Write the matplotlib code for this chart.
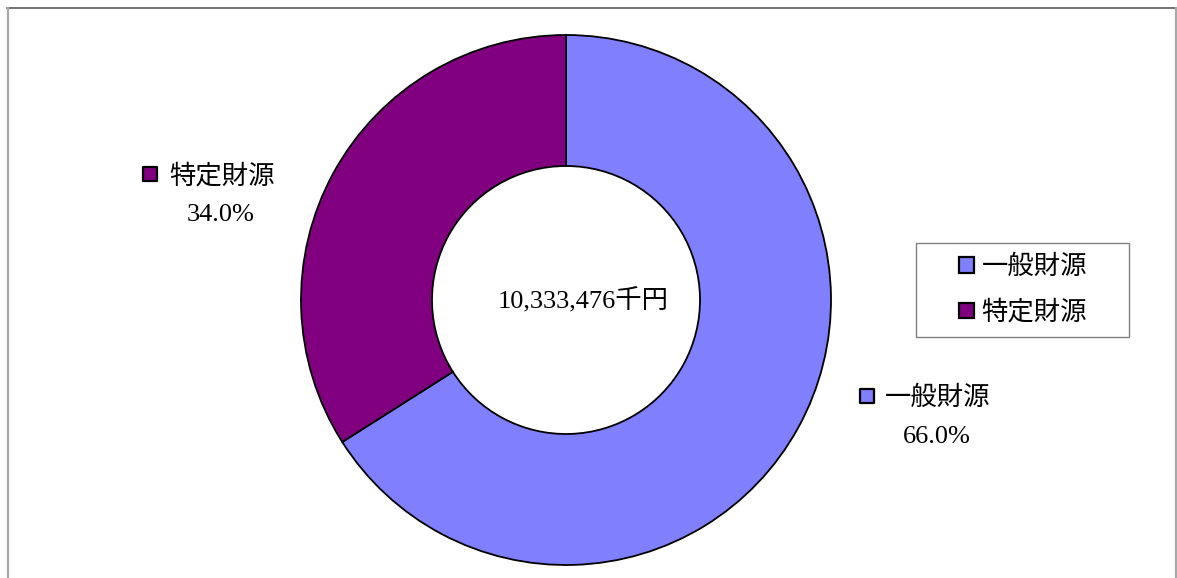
import matplotlib
matplotlib.use("Agg")
import matplotlib.pyplot as plt
from matplotlib.lines import Line2D
from matplotlib.patches import Patch, Rectangle

plt.rcParams['font.family'] = ['Liberation Serif', 'Noto Sans CJK JP', 'DejaVu Sans']

categories = ['一般財源', '特定財源']
values = [66.0, 34.0]
colors = ['#8080FF', '#800080']
total_label = '10,333,476千円'

W, H = 1177, 578
FS = 19
fig = plt.figure(figsize=(W / 100, H / 100), dpi=100)
ax = fig.add_axes([0, 0, 1, 1])
ax.set_aspect('equal')

cx, cy = 566, H - 300
R_out, R_in = 265, 134
wedges, _ = ax.pie(values, colors=colors, startangle=90, counterclock=False,
                   radius=R_out, center=(cx, cy), frame=True,
                   wedgeprops=dict(width=R_out - R_in, edgecolor='black', linewidth=1.3))
ax.set_xlim(0, W)
ax.set_ylim(0, H)
ax.axis('off')

ax.text(cx + 17, cy, total_label, ha='center', va='center', fontsize=FS)

# data labels: (text x, text y, pct x, pct y, marker x)
lab_pos = [(938, H - 398, 937, H - 437, 867), (222, H - 176, 221, H - 215, 150)]
for (tx, ty, px, py, mx), cat, val, col in zip(lab_pos, categories, values, colors):
    ax.text(tx, ty, cat, ha='center', va='center', fontsize=FS)
    ax.text(px, py, f'{val:.1f}%', ha='center', va='center', fontsize=FS)
    ax.scatter([mx], [ty + 2], marker='s', s=90, color=col,
               edgecolors='black', linewidths=1.6, zorder=5)

handles = [Patch(facecolor=c, edgecolor='black', linewidth=1.6) for c in colors]
leg = fig.legend(handles, categories, loc='center',
                 bbox_to_anchor=(1023 / W, 1 - 290 / H), fontsize=FS,
                 frameon=False,
                 handlelength=0.55, handleheight=0.55, handletextpad=0.3,
                 borderpad=0.0, labelspacing=0.78, borderaxespad=0)
fig.add_artist(Rectangle((916 / W, 1 - 337 / H), (1129 - 916) / W, (337 - 243) / H,
                         transform=fig.transFigure, fill=False, edgecolor='#808080',
                         linewidth=1.0))

# outer frame
fig.add_artist(Line2D([7 / W, 1176 / W], [1 - 8 / H, 1 - 8 / H], color='#5a5a5a', linewidth=1.2,
                      transform=fig.transFigure))
fig.add_artist(Line2D([7.5 / W, 7.5 / W], [0, 1 - 8 / H], color='#a8a8a8', linewidth=1.6,
                      transform=fig.transFigure))
fig.add_artist(Line2D([1176 / W, 1176 / W], [0, 1 - 8 / H], color='#a8a8a8', linewidth=1.6,
                      transform=fig.transFigure))

fig.savefig('out.png', dpi=100)
